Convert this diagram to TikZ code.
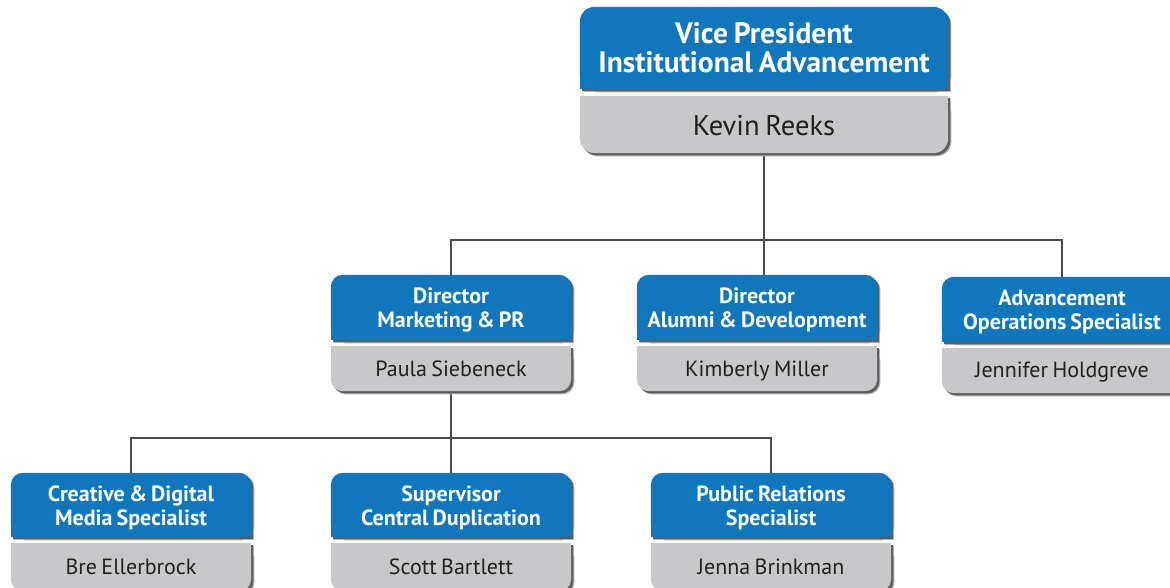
\documentclass[tikz,border=0pt]{standalone}
\usepackage{fontspec}
\setmainfont[WordSpace=0.75]{PT Sans}
\usetikzlibrary{backgrounds,calc}
\definecolor{cardblue}{HTML}{1077BD}
\definecolor{cardgray}{HTML}{C8C8CA}
\definecolor{shadowdark}{HTML}{5E5E60}
\definecolor{shadowlight}{HTML}{B2B2B4}
\definecolor{nametext}{HTML}{231F20}
\definecolor{connc}{HTML}{4A4A4A}
\tikzset{
  box/.style={inner sep=0pt, minimum width=240pt},
  bigbox/.style={inner sep=0pt, minimum width=368pt},
  ttlbase/.style={inner sep=0pt, align=center, text=white},
  ttl/.style={ttlbase, font=\bfseries\fontsize{22}{24}\selectfont, yshift=-2.5pt},
  bigttl/.style={ttlbase, font=\bfseries\fontsize{29.5}{29}\selectfont},
  nmbase/.style={inner sep=0pt, text=nametext},
  nm/.style={nmbase, font=\fontsize{22}{24}\selectfont},
  bignm/.style={nmbase, font=\fontsize{28.5}{30}\selectfont, yshift=-1pt},
  conn/.style={draw=connc, line width=1.1pt}
}
% background of one card: title box, name box, corner radius
\newcommand\cardbg[3]{%
  \foreach \off/\col in {3.2/shadowlight, 2.2/shadowdark}{%
    \begin{scope}[transform canvas={shift={(\off pt,-\off pt)}}]
      \fill[\col, rounded corners=#3] (#1.south west) rectangle (#1.north east);
      \fill[\col] ([yshift=#3]#1.south west) rectangle (#1.south east);
      \fill[\col, rounded corners=#3] (#2.south west) rectangle (#2.north east);
      \fill[\col] ([yshift=-#3]#2.north west) rectangle (#2.north east);
    \end{scope}}
  \fill[cardblue, rounded corners=#3] (#1.south west) rectangle (#1.north east);
  \fill[cardblue] ([yshift=#3]#1.south west) rectangle (#1.south east);
  \fill[cardgray, rounded corners=#3] (#2.south west) rectangle (#2.north east);
  \fill[cardgray] ([yshift=-#3]#2.north west) rectangle (#2.north east);
}
\begin{document}
\begin{tikzpicture}[x=1pt,y=-1pt]
\useasboundingbox (0,0) rectangle (1170,588);
% top
\node[bigbox, minimum height=82pt] (vp) at (764,48) {};
\node[bigttl] (vpt) at (vp.center) {Vice President\\Institutional Advancement};
\node[bigbox, minimum height=57pt] (vpn) at (764,124.5) {};
\node[bignm] (vpnt) at (vpn.center) {Kevin Reeks};
% middle row
\node[box, minimum height=65pt] (d1) at (451,307.5) {};
\node[ttl] (d1t) at (d1.center) {Director\\Marketing \& PR};
\node[box, minimum height=45pt] (d1n) at (451,368.5) {};
\node[nm] (d1nt) at (d1n.center) {Paula Siebeneck};
\node[box, minimum height=65pt] (d2) at (757,307.5) {};
\node[ttl] (d2t) at (d2.center) {Director\\Alumni \& Development};
\node[box, minimum height=45pt] (d2n) at (757,368.5) {};
\node[nm, yshift=-2pt] (d2nt) at (d2n.center) {Kimberly Miller};
\node[box, minimum height=65pt] (d3) at (1062,309.5) {};
\node[ttl] (d3t) at (d3.center) {Advancement\\Operations Specialist};
\node[box, minimum height=45pt] (d3n) at (1062,370.5) {};
\node[nm, yshift=-2pt] (d3nt) at (d3n.center) {Jennifer Holdgreve};
% bottom row
\node[box, minimum height=64pt] (b1) at (131,505) {};
\node[ttl] (b1t) at (b1.center) {Creative \& Digital\\Media Specialist};
\node[box, minimum height=48pt] (b1n) at (131,567) {};
\node[nm] (b1nt) at (b1n.center) {Bre Ellerbrock};
\node[box, minimum height=64pt] (b2) at (451,505) {};
\node[ttl] (b2t) at (b2.center) {Supervisor\\Central Duplication};
\node[box, minimum height=48pt] (b2n) at (451,567) {};
\node[nm] (b2nt) at (b2n.center) {Scott Bartlett};
\node[box, minimum height=64pt] (b3) at (771,505) {};
\node[ttl] (b3t) at (b3.center) {Public Relations\\Specialist};
\node[box, minimum height=48pt] (b3n) at (771,567) {};
\node[nm] (b3nt) at (b3n.center) {Jenna Brinkman};
\coordinate (j1) at (764,240);
\coordinate (j2) at (451,438);
\begin{scope}[on background layer]
  \draw[conn] (vpn.south) -- (vpn.south |- d2.north);
  \draw[conn] (d1.north) |- (j1) -| (d3.north);
  \draw[conn] (d1n.south) -- (b2.north);
  \draw[conn] (b1.north) |- (j2) -| (b3.north);
  \cardbg{vp}{vpn}{15pt}
  \cardbg{d1}{d1n}{12pt}
  \cardbg{d2}{d2n}{12pt}
  \cardbg{d3}{d3n}{12pt}
  \cardbg{b1}{b1n}{12pt}
  \cardbg{b2}{b2n}{12pt}
  \cardbg{b3}{b3n}{12pt}
\end{scope}
\end{tikzpicture}
\end{document}
